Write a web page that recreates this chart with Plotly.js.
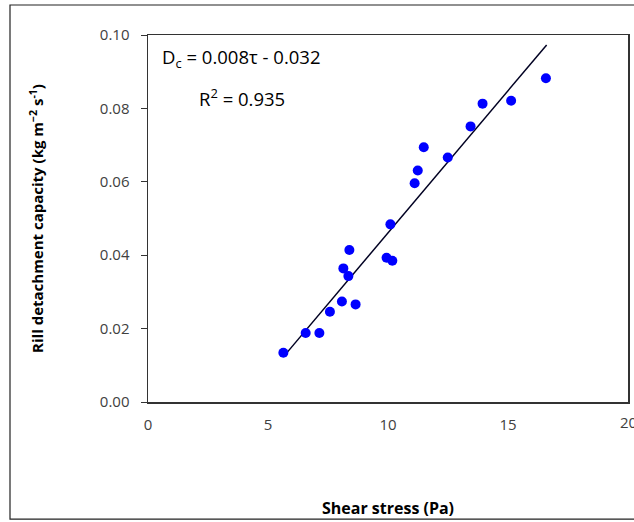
<!DOCTYPE html>
<html><head><meta charset="utf-8">
<script src="https://cdn.plot.ly/plotly-3.0.1.min.js"></script>
<style>body{margin:0;padding:0;background:#fff}#chart{width:634px;height:522px}</style>
</head><body><div id="chart"></div>
<script>
const shearStress = [5.64, 6.57, 7.14, 7.58, 8.08, 8.65, 8.14, 8.35, 8.39, 9.94, 10.18, 10.10, 11.11, 11.24, 11.49, 12.49, 13.44, 13.94, 15.13, 16.58];
const detachCap   = [0.0134, 0.0188, 0.0188, 0.0246, 0.0274, 0.0266, 0.0364, 0.0343, 0.0414, 0.0393, 0.0385, 0.0484, 0.0596, 0.0631, 0.0694, 0.0666, 0.0751, 0.0813, 0.0821, 0.0882];
const fitX = [5.64, 16.61];
const fitY = [0.0123, 0.0973];
const xTicks = [0, 5, 10, 15, 20];
const yTicks = [0.00, 0.02, 0.04, 0.06, 0.08, 0.10];

const font = "'Open Sans', 'Liberation Sans', sans-serif";
const tickFont = {family: font, size: 15, color: '#404040'};
const data = [
  {x: fitX, y: fitY, mode: 'lines', type: 'scatter', line: {color: '#000022', width: 1.5}, hoverinfo: 'skip'},
  {x: shearStress, y: detachCap, mode: 'markers', type: 'scatter', marker: {color: '#0000FF', size: 10}}
];
const layout = {
  width: 634, height: 522,
  margin: {l: 148, r: 6, t: 35, b: 120},
  paper_bgcolor: '#fff', plot_bgcolor: '#fff',
  showlegend: false,
  font: {family: font, size: 14, color: '#404040'},
  xaxis: {
    range: [0, 20], tickvals: xTicks, ticktext: xTicks.map(String), tickfont: tickFont,
    showgrid: false, zeroline: false, showline: true, linecolor: '#333', linewidth: 1.5, mirror: true,
    ticks: '', ticklen: 0, ticklabelstandoff: 8,
    title: {text: '<b>Shear stress (Pa)</b>', font: {family: font, size: 16, color: '#000'}, standoff: 70}
  },
  yaxis: {
    range: [0, 0.10], tickvals: yTicks, ticktext: yTicks.map(v => v.toFixed(2)), tickfont: tickFont,
    showgrid: false, zeroline: false, showline: true, linecolor: '#333', linewidth: 1.5, mirror: true,
    ticks: 'outside', ticklen: 6, tickcolor: '#333', ticklabelstandoff: 8,
    title: {text: '<b>Rill detachment capacity (kg m<sup>−2</sup> s<sup>-1</sup>)</b>', font: {family: font, size: 15, color: '#000'}, standoff: 52}
  },
  annotations: [
    {xref: 'paper', yref: 'paper', x: 0.025, y: 0.937, xanchor: 'left', yanchor: 'middle', showarrow: false,
     text: 'D<sub>c</sub> = 0.008τ - 0.032', font: {family: font, size: 18.5, color: '#000'}},
    {xref: 'paper', yref: 'paper', x: 0.102, y: 0.83, xanchor: 'left', yanchor: 'middle', showarrow: false,
     text: 'R<sup>2</sup> = 0.935', font: {family: font, size: 18.5, color: '#000'}},
    {xref: 'x', yref: 'paper', x: 20, y: -0.022, xanchor: 'center', yanchor: 'top', showarrow: false,
     text: String(xTicks[xTicks.length - 1]), font: tickFont}
  ],
  shapes: [
    {type: 'rect', xref: 'paper', yref: 'paper', x0: -0.2875, x1: 1.1, y0: -0.319, y1: 1.0817,
     line: {color: '#222', width: 1.2}, fillcolor: 'rgba(0,0,0,0)', layer: 'below'}
  ]
};
Plotly.newPlot('chart', data, layout, {displayModeBar: false, staticPlot: true});
</script>
</body></html>
